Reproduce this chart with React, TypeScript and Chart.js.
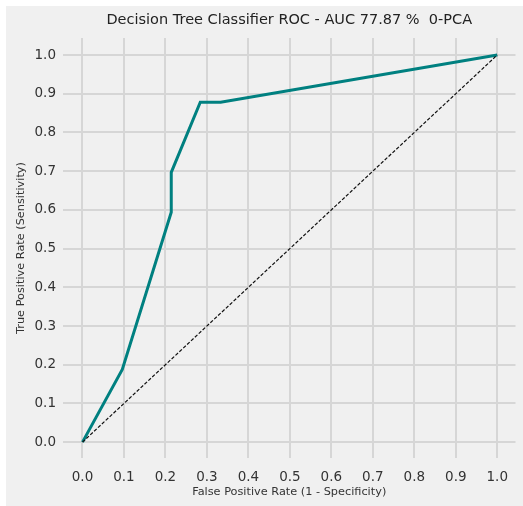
import React, { useEffect, useRef } from "react";
import { Chart, registerables } from "chart.js";

Chart.register(...registerables);

const titleText = "Decision Tree Classifier ROC - AUC 77.87 %  0-PCA";
const xLabel = "False Positive Rate (1 - Specificity)";
const yLabel = "True Positive Rate (Sensitivity)";
const fpr = [0.0, 0.096, 0.214, 0.214, 0.284, 0.333, 1.0];
const tpr = [0.0, 0.188, 0.594, 0.697, 0.878, 0.878, 1.0];
const diagX = [0, 1];
const diagY = [0, 1];
const tickValues = [0, 0.1, 0.2, 0.3, 0.4, 0.5, 0.6, 0.7, 0.8, 0.9, 1.0];

const FONT = "'DejaVu Sans', sans-serif";

const bgPlugin = {
  id: "figbg",
  beforeDraw(chart: any) {
    const { ctx, width, height } = chart;
    ctx.save();
    ctx.fillStyle = "#ffffff";
    ctx.fillRect(0, 0, width, height);
    ctx.fillStyle = "#f0f0f0";
    ctx.fillRect(6, 6, width - 6, height - 6);
    ctx.restore();
  },
};

export default function App() {
  const ref = useRef<HTMLCanvasElement>(null);
  useEffect(() => {
    if (!ref.current) return;
    const setTicks = (scale: any) => {
      scale.ticks = tickValues.map((v) => ({ value: v }));
    };
    const chart = new Chart(ref.current, {
      type: "line",
      data: {
        datasets: [
          {
            label: "chance",
            data: diagX.map((x, i) => ({ x, y: diagY[i] })),
            borderColor: "#111111",
            borderWidth: 1.2,
            borderDash: [3.5, 1.8],
            pointRadius: 0,
            tension: 0,
          },
          {
            label: "ROC",
            data: fpr.map((x, i) => ({ x, y: tpr[i] })),
            borderColor: "#008080",
            borderWidth: 3,
            pointRadius: 0,
            tension: 0,
          },
        ],
      },
      options: {
        animation: false,
        responsive: false,
        devicePixelRatio: 1,
        layout: { padding: { left: 0, right: 7.5, top: 0, bottom: 0 } },
        plugins: {
          legend: { display: false },
          tooltip: { enabled: false },
          title: {
            display: true,
            text: titleText,
            fullSize: false,
            color: "#222222",
            font: { family: FONT, size: 14.5, weight: "normal" },
            padding: { top: 11.3, bottom: 9.3 },
          },
        },
        scales: {
          x: {
            type: "linear",
            min: -0.047,
            max: 1.044,
            afterBuildTicks: setTicks,
            afterFit: (s: any) => {
              s.height = 48;
            },
            border: { display: false },
            grid: { color: "#d6d6d6", lineWidth: 2, drawTicks: false },
            ticks: {
              padding: 11.5,
              color: "#333333",
              font: { family: FONT, size: 13.5 },
              maxRotation: 0,
              autoSkip: false,
              callback: (v: any) => Number(v).toFixed(1),
            },
            title: {
              display: true,
              text: xLabel,
              color: "#333333",
              font: { family: FONT, size: 11.3 },
              padding: { top: 0, bottom: 7.5 },
            },
          },
          y: {
            type: "linear",
            min: -0.041,
            max: 1.044,
            afterBuildTicks: setTicks,
            afterFit: (s: any) => {
              s.width = 63;
            },
            border: { display: false },
            grid: { color: "#d6d6d6", lineWidth: 2, drawTicks: false },
            ticks: {
              padding: 7,
              color: "#333333",
              font: { family: FONT, size: 13.5 },
              autoSkip: false,
              callback: (v: any) => Number(v).toFixed(1),
            },
            title: {
              display: true,
              text: yLabel,
              color: "#333333",
              font: { family: FONT, size: 11.3 },
              padding: { top: 14.3, bottom: 0 },
            },
          },
        },
      },
      plugins: [bgPlugin],
    });
    return () => chart.destroy();
  }, []);
  return (
    <div style={{ position: "absolute", left: 0, top: 0, width: 523, height: 506 }}>
      <canvas ref={ref} width={523} height={506} style={{ display: "block" }} />
    </div>
  );
}
